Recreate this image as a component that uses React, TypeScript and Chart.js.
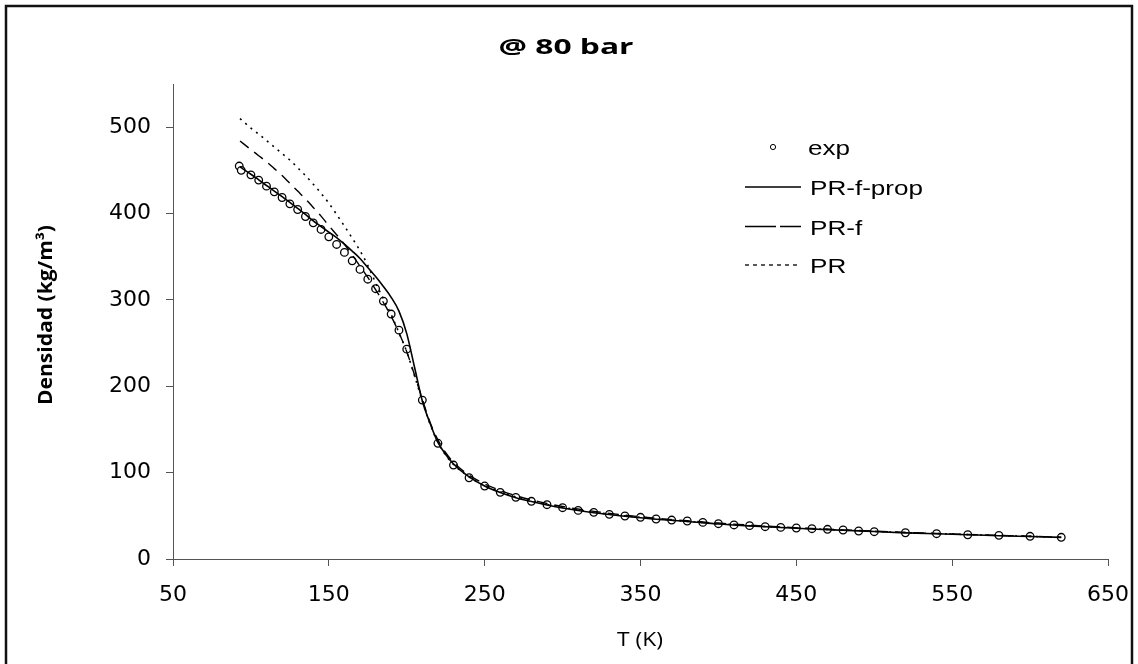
import React, { useEffect, useRef } from "react";
import { Chart, registerables } from "chart.js";

Chart.register(...registerables);

// ---- data ----
const expT = [92.5, 93.8, 100, 105, 110, 115, 120, 125, 130, 135, 140, 145, 150, 155, 160, 165, 170, 175, 180, 185, 190, 195, 200,
  210, 220, 230, 240, 250, 260, 270, 280, 290, 300, 310, 320, 330, 340, 350, 360, 370, 380, 390, 400, 410, 420, 430, 440, 450, 460, 470, 480, 490, 500,
  520, 540, 560, 580, 600, 620];
const expRho = [455, 450, 444.8, 438.7, 431.7, 425.1, 418.6, 411.2, 404.7, 396.6, 389.2, 381.6, 373, 364.2, 355, 345.3, 335.3, 324, 313, 298.6, 283.6, 265, 243,
  184, 134, 108.8, 94.1, 84.5, 77.2, 71.4, 66.8, 62.9, 59.4, 56.3, 54, 51.7, 49.8, 48.3, 46.3, 45.1, 44, 42.4, 40.9, 39.4, 38.6, 37.4, 36.6, 35.9, 35.1, 34.4, 33.6, 32.4, 31.6,
  30.4, 29.3, 28.1, 27.4, 26.3, 25.1];

const modelT = [93, 100, 105, 110, 115, 120, 125, 130, 135, 140, 145, 150, 155, 160, 165, 170, 175, 180, 185, 190, 195, 200, 205, 210, 215, 220, 225,
  230, 240, 250, 260, 270, 280, 290, 300, 320, 340, 360, 380, 400, 420, 440, 460, 480, 500, 520, 540, 560, 580, 600, 620];
const prfPropRho = [454, 445.5, 439, 432.5, 426, 419.5, 413, 406, 399, 391.5, 385, 378.5, 372, 364.5, 356.5, 348, 337.5, 327, 315.5, 303, 287, 261, 222, 183, 157, 135, 121,
  110, 95, 84.5, 77, 71, 66.5, 62.5, 59, 53.5, 49.5, 46, 43.5, 40.5, 38.3, 36.4, 34.8, 33.3, 31.8, 30.3, 29.2, 28.1, 27, 26, 25];
const prfRho = [484, 474, 467, 460, 452, 444, 435, 426, 417, 407, 397, 386, 375.5, 364.5, 352, 339, 326, 312, 297, 281, 262, 240, 213, 185, 158, 138, 123,
  112, 97, 87, 79.5, 73.3, 68.5, 64.3, 60.8, 55.2, 50.8, 47.2, 44.3, 41.6, 39.2, 37.1, 35.3, 33.7, 32.2, 30.8, 29.6, 28.4, 27.3, 26.3, 25.3];
const prRho = [510, 499, 492, 484.5, 477, 469.5, 462, 453, 444, 434, 423.5, 412, 399, 385.5, 371.5, 357, 340, 320, 301, 283, 262, 240, 212, 183, 156, 135, 120,
  109.5, 95, 85, 77.8, 72, 67.2, 63.2, 59.8, 54.2, 50, 46.5, 43.6, 41, 38.7, 36.7, 35, 33.4, 32, 30.6, 29.4, 28.3, 27.2, 26.2, 25.2];

const xTicks = [50, 150, 250, 350, 450, 550, 650];
const yTicks = [0, 100, 200, 300, 400, 500];
const titleText = "@ 80 bar";
const xTitle = "T (K)";
const yTitle = "Densidad (kg/m\u00B3)";
const legendLabels = ["exp", "PR-f-prop", "PR-f", "PR"];

function fillStretched(ctx: CanvasRenderingContext2D, text: string, x: number, y: number, targetW: number) {
  const w = ctx.measureText(text).width;
  const sx = targetW / w;
  ctx.save();
  ctx.translate(x, y);
  ctx.scale(sx, 1);
  ctx.textAlign = "center";
  ctx.fillText(text, 0, 0);
  ctx.restore();
}

const decorPlugin = {
  id: "decor",
  beforeDraw(chart: any) {
    const ctx = chart.ctx as CanvasRenderingContext2D;
    ctx.save();
    ctx.fillStyle = "#ffffff";
    ctx.fillRect(0, 0, chart.width, chart.height);
    ctx.restore();
  },
  afterDraw(chart: any) {
    const ctx = chart.ctx as CanvasRenderingContext2D;
    ctx.save();
    ctx.fillStyle = "#000";
    ctx.textBaseline = "alphabetic";

    // title
    ctx.font = "bold 22px 'Open Sans'";
    fillStretched(ctx, titleText, 566, 54, 135);

    // x title
    ctx.font = "20px 'Open Sans'";
    fillStretched(ctx, xTitle, 640, 646, 46);

    // y title
    ctx.font = "bold 19px 'Open Sans'";
    ctx.save();
    ctx.translate(52, 315);
    ctx.rotate(-Math.PI / 2);
    const yw = ctx.measureText(yTitle).width;
    ctx.scale(180 / yw, 1);
    ctx.textAlign = "center";
    ctx.fillText(yTitle, 0, 0);
    ctx.restore();

    // legend
    ctx.font = "21px 'Liberation Sans'";
    const refW = ctx.measureText("PR-f-prop").width;
    const sx = 113 / refW;
    const baselines = [155, 195, 235, 273];
    legendLabels.forEach((lab, i) => {
      ctx.save();
      ctx.translate(i === 0 ? 808 : 810, baselines[i]);
      ctx.scale(sx, 1);
      ctx.textAlign = "left";
      ctx.fillText(lab, 0, 0);
      ctx.restore();
    });
    // exp marker
    ctx.strokeStyle = "#000";
    ctx.lineWidth = 1;
    ctx.beginPath();
    ctx.arc(773, 147, 2.6, 0, Math.PI * 2);
    ctx.stroke();
    // solid
    ctx.lineWidth = 1.6;
    ctx.beginPath();
    ctx.moveTo(745, 187);
    ctx.lineTo(801, 187);
    ctx.stroke();
    // dashed
    ctx.beginPath();
    ctx.moveTo(745, 226.5);
    ctx.lineTo(776, 226.5);
    ctx.moveTo(780, 226.5);
    ctx.lineTo(801, 226.5);
    ctx.stroke();
    // dotted
    ctx.setLineDash([4, 4]);
    ctx.lineWidth = 1.3;
    ctx.beginPath();
    ctx.moveTo(745, 265);
    ctx.lineTo(801, 265);
    ctx.stroke();
    ctx.setLineDash([]);

    // frame
    ctx.strokeStyle = "#111";
    ctx.lineWidth = 2.5;
    ctx.beginPath();
    ctx.moveTo(6, 670);
    ctx.lineTo(6, 6);
    ctx.lineTo(1132, 6);
    ctx.lineTo(1132, 670);
    ctx.stroke();
    ctx.restore();
  },
};

export default function App() {
  const ref = useRef<HTMLCanvasElement | null>(null);
  useEffect(() => {
    document.body.style.margin = "0";
    const canvas = ref.current;
    if (!canvas) return;
    const toPts = (xs: number[], ys: number[]) => xs.map((x, i) => ({ x, y: ys[i] }));
    const lineBase = {
      showLine: true,
      pointRadius: 0,
      pointHoverRadius: 0,
      borderColor: "#000",
      backgroundColor: "#000",
      fill: false,
      cubicInterpolationMode: "monotone" as const,
      order: 0,
    };
    const chart = new Chart(canvas, {
      type: "scatter",
      data: {
        datasets: [
          {
            label: legendLabels[0],
            data: toPts(expT, expRho),
            showLine: false,
            pointStyle: "circle",
            pointRadius: 3.8,
            pointBorderWidth: 1.3,
            pointBorderColor: "#000",
            pointBackgroundColor: "#fff",
            borderColor: "#000",
            backgroundColor: "#fff",
            order: 10,
          },
          { ...lineBase, label: legendLabels[1], data: toPts(modelT, prfPropRho), borderWidth: 1.6 },
          { ...lineBase, label: legendLabels[2], data: toPts(modelT, prfRho), borderWidth: 1.4, borderDash: [11, 7] },
          { ...lineBase, label: legendLabels[3], data: toPts(modelT, prRho), borderWidth: 1.6, borderDash: [2, 5] },
        ],
      },
      options: {
        responsive: false,
        maintainAspectRatio: false,
        animation: false,
        events: [],
        layout: { padding: { top: 84, right: 30, bottom: 0, left: 0 } },
        plugins: {
          legend: { display: false },
          tooltip: { enabled: false },
          title: { display: false },
        },
        scales: {
          x: {
            type: "linear",
            min: 50,
            max: 650,
            afterBuildTicks: (s: any) => {
              s.ticks = xTicks.map((v) => ({ value: v }));
            },
            afterFit: (s: any) => {
              s.height = 105;
              s.paddingLeft = 0;
              s.paddingRight = 0;
            },
            ticks: {
              color: "#000",
              font: { family: "'DejaVu Sans'", size: 22 },
              padding: 16,
              maxRotation: 0,
              autoSkip: false,
            },
            grid: { display: true, drawOnChartArea: false, drawTicks: true, tickLength: 7, color: "#555", lineWidth: 1 },
            border: { display: true, color: "#555", width: 1 },
            title: { display: false },
          },
          y: {
            type: "linear",
            min: 0,
            max: 550,
            afterBuildTicks: (s: any) => {
              s.ticks = yTicks.map((v) => ({ value: v }));
            },
            afterFit: (s: any) => {
              s.width = 173;
              s.paddingTop = 0;
              s.paddingBottom = 0;
            },
            ticks: {
              color: "#000",
              font: { family: "'DejaVu Sans'", size: 22 },
              padding: 15,
              autoSkip: false,
            },
            grid: { display: true, drawOnChartArea: false, drawTicks: true, tickLength: 7, color: "#555", lineWidth: 1 },
            border: { display: true, color: "#555", width: 1 },
            title: { display: false },
          },
        },
      },
      plugins: [decorPlugin],
    });
    return () => chart.destroy();
  }, []);
  return (
    <div style={{ position: "absolute", left: 0, top: 0, width: 1138, height: 664, background: "#fff" }}>
      <canvas ref={ref} width={1138} height={664} style={{ display: "block", width: 1138, height: 664 }} />
    </div>
  );
}
